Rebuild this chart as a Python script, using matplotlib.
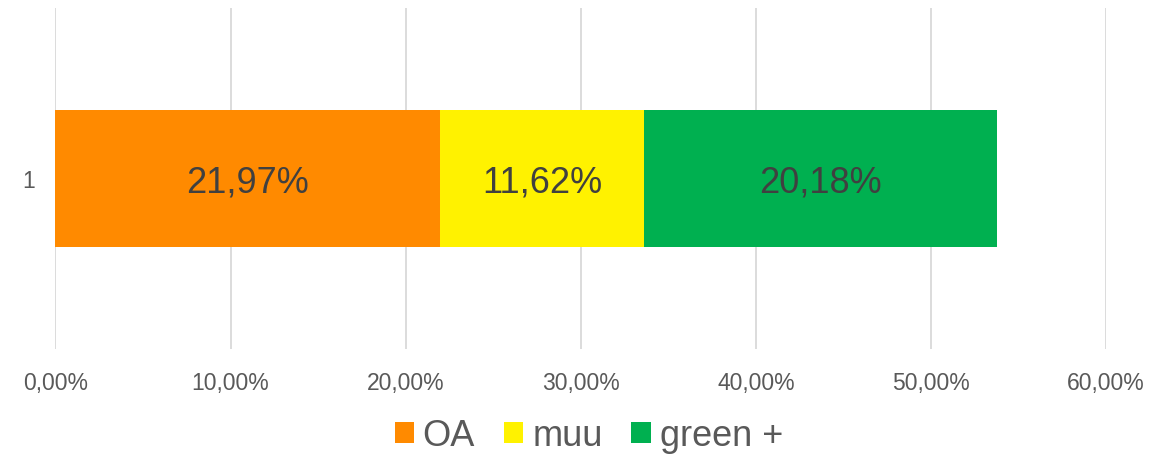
import matplotlib.pyplot as plt

plt.rcParams['font.family'] = ['Liberation Sans', 'DejaVu Sans']

categories = ['1']
series_names = ['OA', 'muu', 'green +']
series_values = [21.97, 11.62, 20.18]
colors = ['#FF8A00', '#FFF200', '#00B050']
tick_values = [0, 10, 20, 30, 40, 50, 60]

fig = plt.figure(figsize=(11.75, 4.56), dpi=100)
ax = fig.add_axes([0.0472, 0.2325, 0.8941, 0.748])

left = 0
for name, val, col in zip(series_names, series_values, colors):
    ax.barh(categories, [val], left=left, height=0.4, color=col, label=name, zorder=2)
    ax.text(left + val / 2, -0.01, f"{val:.2f}%".replace('.', ','), ha='center', va='center',
            fontsize=26, color='#404040', zorder=3)
    left += val

ax.set_xlim(0, 60)
ax.set_ylim(-0.5, 0.5)
ax.set_xticks(tick_values)
ax.set_xticklabels([f"{t:.2f}%".replace('.', ',') for t in tick_values])
ax.tick_params(axis='both', length=0, labelsize=16.5, labelcolor='#595959')
ax.tick_params(axis='x', pad=16)
ax.tick_params(axis='y', pad=15)
ax.grid(axis='x', color='#D9D9D9', linewidth=1.3, zorder=0)
for s in ax.spines.values():
    s.set_visible(False)

fig.legend(loc='center', bbox_to_anchor=(0.501, 0.042), ncol=3, frameon=False,
           fontsize=26, handlelength=0.53, handleheight=0.53, handletextpad=0.25,
           columnspacing=0.8, labelcolor='#595959')

fig.savefig('out.png', dpi=100)
